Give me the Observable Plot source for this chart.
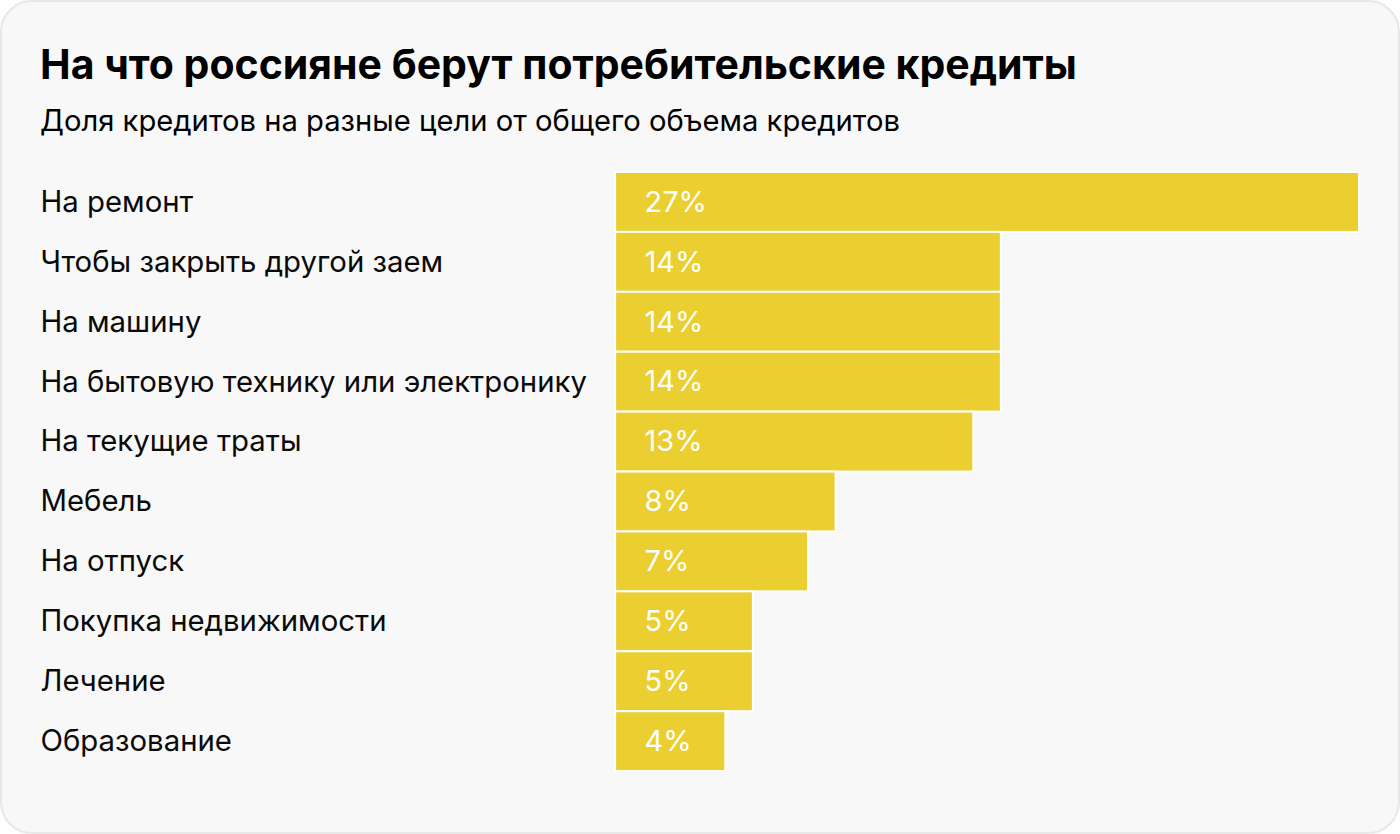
<!DOCTYPE html>
<html>
<head>
<meta charset="utf-8">
<script src="https://cdn.jsdelivr.net/npm/d3@7"></script>
<script src="https://cdn.jsdelivr.net/npm/@observablehq/plot@0.6"></script>
<style>
  html, body { margin: 0; padding: 0; background: #ffffff; }
  body { width: 1400px; height: 834px; position: relative; overflow: hidden; font-family: Inter, "Noto Sans", sans-serif; }
  .card { position: absolute; left: 0; top: 0; width: 1396px; height: 830px; border: 2px solid #e8e8e8; border-radius: 32px; background: #f8f8f8; }
  .title { position: absolute; left: 38px; top: 42px; font-size: 41px; font-weight: 700; color: #000; white-space: nowrap; line-height: 1; }
  .subtitle { position: absolute; left: 38px; top: 104px; font-size: 29.2px; font-weight: 400; color: #000; white-space: nowrap; line-height: 1; }
  #chart { position: absolute; left: -2px; top: 156px; }
</style>
</head>
<body>
<div class="card">
  <div class="title">На что россияне берут потребительские кредиты</div>
  <div class="subtitle">Доля кредитов на разные цели от общего объема кредитов</div>
  <div id="chart"></div>
</div>
<script>
const categories = [
  "На ремонт",
  "Чтобы закрыть другой заем",
  "На машину",
  "На бытовую технику или электронику",
  "На текущие траты",
  "Мебель",
  "На отпуск",
  "Покупка недвижимости",
  "Лечение",
  "Образование"
];
const shares = [27, 14, 14, 14, 13, 8, 7, 5, 5, 4];
const labels = ["27%", "14%", "14%", "14%", "13%", "8%", "7%", "5%", "5%", "4%"];

const data = categories.map((c, i) => ({category: c, value: shares[i], label: labels[i]}));

const chart = Plot.plot({
  width: 1400,
  height: 660,
  marginLeft: 616,
  marginRight: 39,
  marginTop: 14,
  marginBottom: 46,
  style: {background: "transparent", fontFamily: "Inter, 'Noto Sans', sans-serif"},
  x: {domain: [0, 27], axis: null},
  y: {domain: categories, padding: 0, axis: null},
  marks: [
    Plot.barX(data, {x: "value", y: "category", fill: "#ebce2f", stroke: "#ffffff", strokeWidth: 2}),
    Plot.text(data, {x: 0, y: "category", text: "category", textAnchor: "start", dx: -576, fill: "#0a0a0a", fontSize: 29.4}),
    Plot.text(data, {x: 0, y: "category", text: "label", textAnchor: "start", dx: 29, fill: "#ffffff", fontSize: 29})
  ]
});
document.getElementById("chart").appendChild(chart);
</script>
</body>
</html>
